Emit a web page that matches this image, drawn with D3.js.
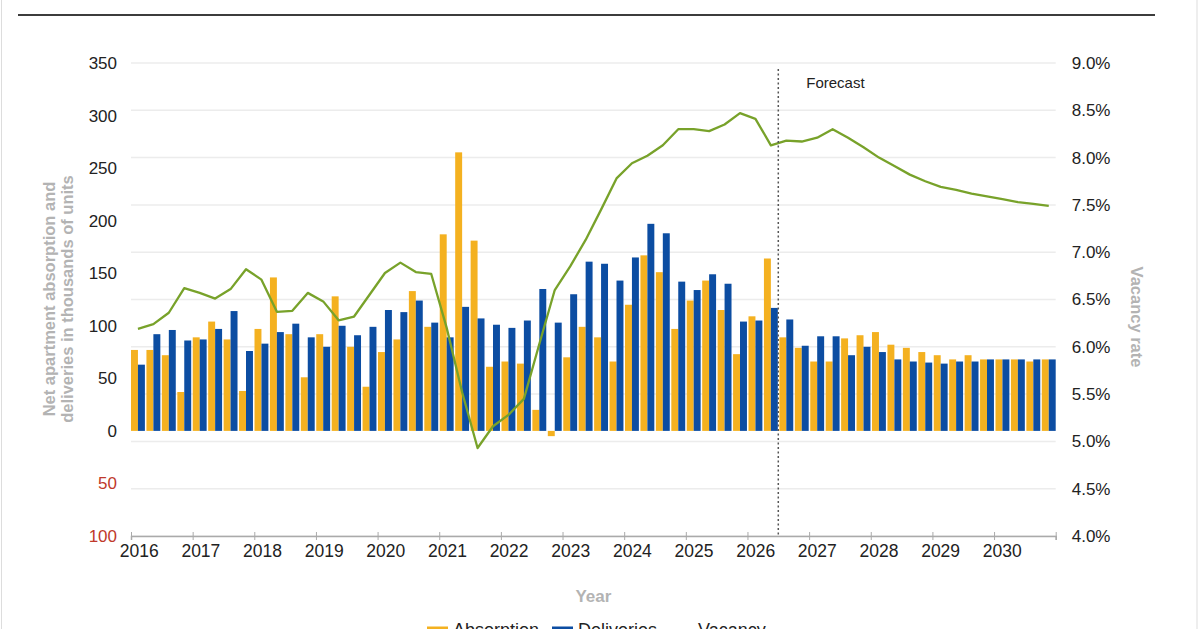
<!DOCTYPE html>
<html>
<head>
<meta charset="utf-8">
<script src="https://cdn.jsdelivr.net/npm/d3@7"></script>
<style>
  body { margin: 0; background: #fff; }
  svg { font-family: "Liberation Sans", Arial, sans-serif; display: block; }
</style>
</head>
<body>
<div id="wrapper"></div>
<script>
// ---------- DATA -----------------------------------------------
const years = [2016, 2017, 2018, 2019, 2020, 2021, 2022, 2023, 2024, 2025, 2026, 2027, 2028, 2029, 2030];
const quarterNames = ["Q1", "Q2", "Q3", "Q4"];

// net absorption, thousands of units (one value per quarter)
const absorption = [
  77, 77, 72, 37,
  89, 104, 87, 38,
  97, 146, 92, 51,
  92, 128, 80, 42,
  75, 87, 133, 99,
  187, 265, 181, 61,
  66, 64, 20, -5,
  70, 99, 89, 66,
  120, 167, 151, 97,
  124, 143, 115, 73,
  109, 164, 89, 79,
  66, 66, 88, 91,
  94, 82, 79, 75,
  72, 68, 72, 68,
  68, 68, 66, 68
];

// deliveries, thousands of units
const deliveries = [
  63, 92, 96, 86,
  87, 97, 114, 76,
  83, 94, 102, 89,
  80, 100, 91, 99,
  115, 113, 124, 103,
  89, 118, 107, 101,
  98, 105, 135, 103,
  130, 161, 159, 143,
  165, 197, 188, 142,
  134, 149, 140, 104,
  105, 117, 106, 81,
  90, 90, 72, 80,
  75, 68, 66, 65,
  64, 66, 66, 68,
  68, 68, 68, 68
];

// vacancy rate, percent
const vacancyRate = [
  6.19, 6.24, 6.36, 6.62,
  6.57, 6.51, 6.61, 6.82,
  6.71, 6.37, 6.38, 6.57,
  6.48, 6.28, 6.32, 6.55,
  6.78, 6.89, 6.79, 6.77,
  6.20, 5.52, 4.93, 5.16,
  5.28, 5.45, 6.03, 6.60,
  6.85, 7.13, 7.45, 7.78,
  7.94, 8.02, 8.13, 8.30,
  8.30, 8.28, 8.35, 8.47,
  8.41, 8.13, 8.18, 8.17,
  8.21, 8.30, 8.21, 8.11,
  8.00, 7.91, 7.82, 7.75,
  7.69, 7.66, 7.62, 7.59,
  7.56, 7.53, 7.51, 7.49
];

const leftTicks = [350, 300, 250, 200, 150, 100, 50, 0, -50, -100];
const rightTicks = [9.0, 8.5, 8.0, 7.5, 7.0, 6.5, 6.0, 5.5, 5.0, 4.5, 4.0];
const forecastStart = 2026.5;

// ---------- DIMENSIONS -----------------------------------------------
let dimensions = {
  width: 1200,
  height: 629,
  margin: { top: 63, right: 144.3, bottom: 93, left: 131 },
};
dimensions.boundedWidth = dimensions.width - dimensions.margin.left - dimensions.margin.right;
dimensions.boundedHeight = dimensions.height - dimensions.margin.top - dimensions.margin.bottom;

const colors = {
  absorption: "#f4b120",
  deliveries: "#0c4da2",
  vacancy: "#78a22a",
  text: "#222",
  title: "#b3b3b3",
  negative: "#c0392b",
};

// ---------- SVG -----------------------------------------------
const svg = d3.select("#wrapper")
  .append("svg")
  .attr("width", dimensions.width)
  .attr("height", dimensions.height);

// frame: top rule and faint side borders
svg.append("line")
  .attr("x1", 18).attr("x2", 1155).attr("y1", 15).attr("y2", 15)
  .attr("stroke", "#3c3c3c").attr("stroke-width", 2);
svg.append("line")
  .attr("x1", 1.5).attr("x2", 1.5).attr("y1", 0).attr("y2", dimensions.height)
  .attr("stroke", "#ddd");
svg.append("line")
  .attr("x1", 1197).attr("x2", 1197).attr("y1", 0).attr("y2", dimensions.height)
  .attr("stroke", "#ddd");

const bounds = svg.append("g")
  .attr("transform", `translate(${dimensions.margin.left},${dimensions.margin.top})`);

// ---------- SCALES -----------------------------------------------
const quarters = years.flatMap(y => quarterNames.map(q => `${y} ${q}`));

const xYear = d3.scaleLinear()
  .domain([years[0], years[years.length - 1] + 1])
  .range([0, dimensions.boundedWidth]);

const xBand = d3.scaleBand()
  .domain(quarters)
  .range([0, dimensions.boundedWidth])
  .paddingInner(0.1)
  .paddingOuter(0);

const yLeft = d3.scaleLinear()
  .domain([-100, 350])
  .range([dimensions.boundedHeight, 0]);

const yRight = d3.scaleLinear()
  .domain([4.0, 9.0])
  .range([dimensions.boundedHeight, 0]);

// ---------- GRID -----------------------------------------------
bounds.append("g")
  .selectAll("line")
  .data(rightTicks)
  .join("line")
  .attr("x1", 0)
  .attr("x2", dimensions.boundedWidth)
  .attr("y1", d => yRight(d))
  .attr("y2", d => yRight(d))
  .attr("stroke", "#ececec")
  .attr("stroke-width", 1.5);

// ---------- BARS -----------------------------------------------
const half = xBand.bandwidth() / 2;
const barData = quarters.map((q, i) => ({ q, absorption: absorption[i], deliveries: deliveries[i], vacancy: vacancyRate[i] }));

const barGroups = bounds.append("g")
  .selectAll("g")
  .data(barData)
  .join("g")
  .attr("transform", d => `translate(${xBand(d.q)},0)`);

barGroups.append("rect")
  .attr("x", 0)
  .attr("width", half)
  .attr("y", d => yLeft(Math.max(0, d.absorption)))
  .attr("height", d => Math.abs(yLeft(d.absorption) - yLeft(0)))
  .attr("fill", colors.absorption);

barGroups.append("rect")
  .attr("x", half)
  .attr("width", half)
  .attr("y", d => yLeft(Math.max(0, d.deliveries)))
  .attr("height", d => Math.abs(yLeft(d.deliveries) - yLeft(0)))
  .attr("fill", colors.deliveries);

// ---------- VACANCY LINE -----------------------------------------------
const lineGenerator = d3.line()
  .x(d => xBand(d.q) + xBand.bandwidth() / 2)
  .y(d => yRight(d.vacancy));

bounds.append("path")
  .datum(barData)
  .attr("d", lineGenerator)
  .attr("fill", "none")
  .attr("stroke", colors.vacancy)
  .attr("stroke-width", 2.3)
  .attr("stroke-linejoin", "round");

// ---------- FORECAST MARKER -----------------------------------------------
bounds.append("line")
  .attr("x1", xYear(forecastStart))
  .attr("x2", xYear(forecastStart))
  .attr("y1", 6)
  .attr("y2", dimensions.boundedHeight)
  .attr("stroke", "#555")
  .attr("stroke-width", 1.5)
  .attr("stroke-dasharray", "2 2.5");

bounds.append("text")
  .attr("x", xYear(forecastStart) + 28)
  .attr("y", 25)
  .text("Forecast")
  .attr("fill", colors.text)
  .style("font-size", "15px");

// ---------- AXES -----------------------------------------------
// year labels sit over the first quarter of each year, not on the tick itself
const xAxis = bounds.append("g")
  .attr("transform", `translate(0,${dimensions.boundedHeight})`)
  .call(d3.axisBottom(xYear)
    .tickValues(years.concat(years[years.length - 1] + 1))
    .tickFormat(d => (years.includes(d) ? d : ""))
    .tickSize(4)
    .tickPadding(5));
xAxis.select(".domain").attr("stroke", "#aaa").attr("stroke-width", 1.5);
xAxis.selectAll(".tick line").attr("y1", -4).attr("y2", 4).attr("stroke", "#aaa");
xAxis.selectAll(".tick text")
  .attr("x", xBand.step() / 2)
  .attr("fill", colors.text)
  .style("font-size", "17.5px")
  .style("font-family", "'Liberation Sans', Arial, sans-serif");

const leftAxis = bounds.append("g")
  .call(d3.axisLeft(yLeft)
    .tickValues(leftTicks)
    .tickFormat(d => Math.abs(d))
    .tickSize(0)
    .tickPadding(14));
leftAxis.select(".domain").remove();
leftAxis.selectAll(".tick text")
  .attr("fill", d => (d < 0 ? colors.negative : colors.text))
  .style("font-size", "17px")
  .style("font-family", "'Liberation Sans', Arial, sans-serif");

const rightAxis = bounds.append("g")
  .attr("transform", `translate(${dimensions.boundedWidth},0)`)
  .call(d3.axisRight(yRight)
    .tickValues(rightTicks)
    .tickFormat(d => d.toFixed(1) + "%")
    .tickSize(0)
    .tickPadding(16));
rightAxis.select(".domain").remove();
rightAxis.selectAll(".tick text")
  .attr("fill", colors.text)
  .style("font-size", "17px")
  .style("font-family", "'Liberation Sans', Arial, sans-serif");

// ---------- AXIS TITLES -----------------------------------------------
const leftTitle = ["Net apartment absorption and", "deliveries in thousands of units"];
svg.append("g")
  .selectAll("text")
  .data(leftTitle)
  .join("text")
  .attr("transform", (d, i) => `translate(${55 + i * 18},299) rotate(-90)`)
  .attr("text-anchor", "middle")
  .attr("fill", colors.title)
  .style("font-size", "16.5px")
  .style("font-weight", "bold")
  .text(d => d);

svg.append("text")
  .attr("transform", "translate(1131,317) rotate(90)")
  .attr("text-anchor", "middle")
  .attr("fill", colors.title)
  .style("font-size", "16.5px")
  .style("font-weight", "bold")
  .text("Vacancy rate");

svg.append("text")
  .attr("x", dimensions.margin.left + dimensions.boundedWidth / 2)
  .attr("y", 602)
  .attr("text-anchor", "middle")
  .attr("fill", colors.title)
  .style("font-size", "17px")
  .style("font-weight", "bold")
  .text("Year");

// ---------- LEGEND (cut off at the bottom edge, as in the source) ------------
const legendItems = [
  { label: "Absorption", x: 427, type: "rect", color: colors.absorption },
  { label: "Deliveries", x: 552, type: "rect", color: colors.deliveries },
  { label: "Vacancy", x: 672, type: "line", color: colors.vacancy },
];
const legend = svg.append("g")
  .selectAll("g")
  .data(legendItems)
  .join("g")
  .attr("transform", d => `translate(${d.x},0)`);

legend.filter(d => d.type === "rect")
  .append("rect")
  .attr("x", 0).attr("y", 626.5).attr("width", 21).attr("height", 10)
  .attr("fill", d => d.color);
legend.filter(d => d.type === "line")
  .append("line")
  .attr("x1", 0).attr("x2", 21).attr("y1", 631).attr("y2", 631)
  .attr("stroke", d => d.color).attr("stroke-width", 2.5);
legend.append("text")
  .attr("x", 26)
  .attr("y", 636)
  .attr("fill", colors.text)
  .style("font-size", "18px")
  .text(d => d.label);
</script>
</body>
</html>
